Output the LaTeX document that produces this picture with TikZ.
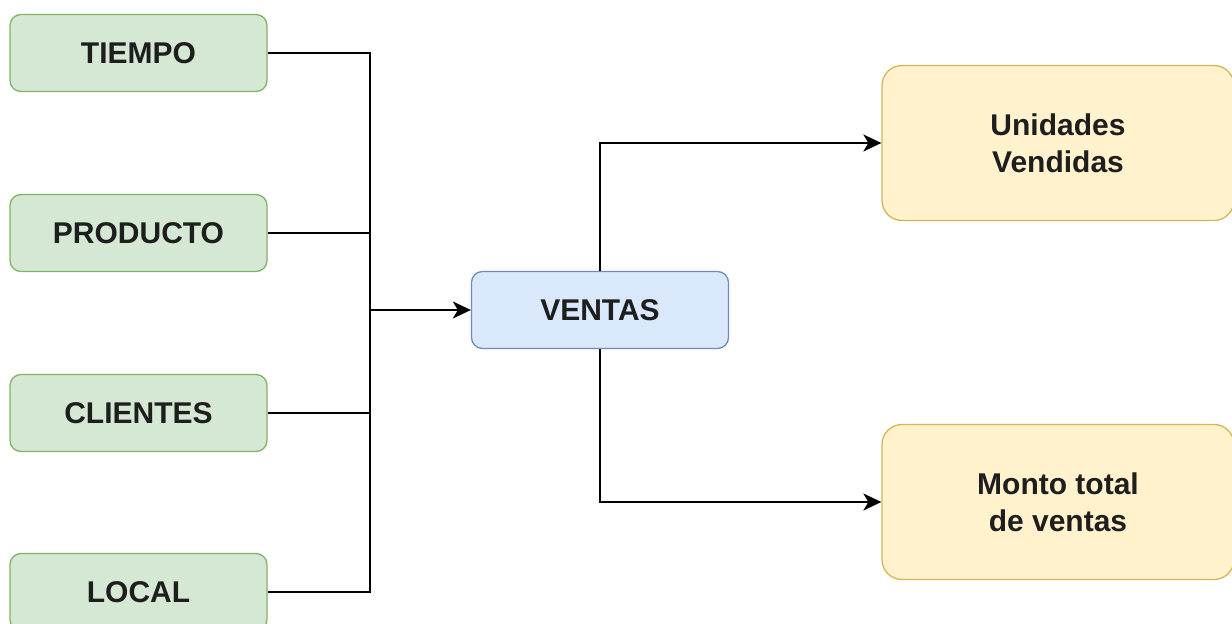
\documentclass[tikz,border=0pt]{standalone}
\usepackage{fontspec}
\setmainfont{Liberation Sans}
\usetikzlibrary{arrows.meta}
\definecolor{gfill}{HTML}{D5E8D4}
\definecolor{gline}{HTML}{82B366}
\definecolor{bfill}{HTML}{DAE8FC}
\definecolor{bline}{HTML}{6C8EBF}
\definecolor{yfill}{HTML}{FFF2CC}
\definecolor{yline}{HTML}{D6B656}
\definecolor{ink}{HTML}{1E1E1E}
\tikzset{
  box/.style={rectangle, rounded corners=11pt, line width=1.3pt, inner sep=0pt,
    minimum width=257pt, minimum height=77pt, text=ink, align=center,
    font=\fontsize{30}{37}\selectfont\bfseries},
  dimbox/.style={box, fill=gfill, draw=gline},
  factbox/.style={box, fill=bfill, draw=bline},
  measbox/.style={box, fill=yfill, draw=yline, rounded corners=20pt,
    minimum width=352pt, minimum height=155pt},
  link/.style={line width=2pt, draw=black},
  arrowlink/.style={link, -{Stealth[length=18pt, width=17pt, inset=5pt]}}
}
\begin{document}
\begin{tikzpicture}[x=1pt, y=-1pt]
  \clip (0,0) rectangle (1232,624);
  \fill[white] (0,0) rectangle (1232,624);

  % dimension tables
  \node[dimbox] (tiempo)   at (138.5, 53)  {TIEMPO};
  \node[dimbox] (producto) at (138.5, 233) {PRODUCTO};
  \node[dimbox] (clientes) at (138.5, 413) {CLIENTES};
  \node[dimbox] (local)    at (138.5, 592) {LOCAL};

  % fact table
  \node[factbox] (ventas) at (600, 310) {VENTAS};

  % measures
  \node[measbox] (unidades) at (1058, 143) {Unidades\\Vendidas};
  \node[measbox] (monto)    at (1058, 502) {Monto total\\de ventas};

  % collecting bus
  \coordinate (bus) at (370, 310);
  \draw[link] (tiempo.east)   -| (bus);
  \draw[link] (producto.east) -| (bus);
  \draw[link] (clientes.east) -| (bus);
  \draw[link] (local.east)    -| (bus);
  \draw[arrowlink] (bus) -- (ventas.west);

  % outputs
  \draw[arrowlink] (ventas.north) |- (unidades.west);
  \draw[arrowlink] (ventas.south) |- (monto.west);
\end{tikzpicture}
\end{document}
